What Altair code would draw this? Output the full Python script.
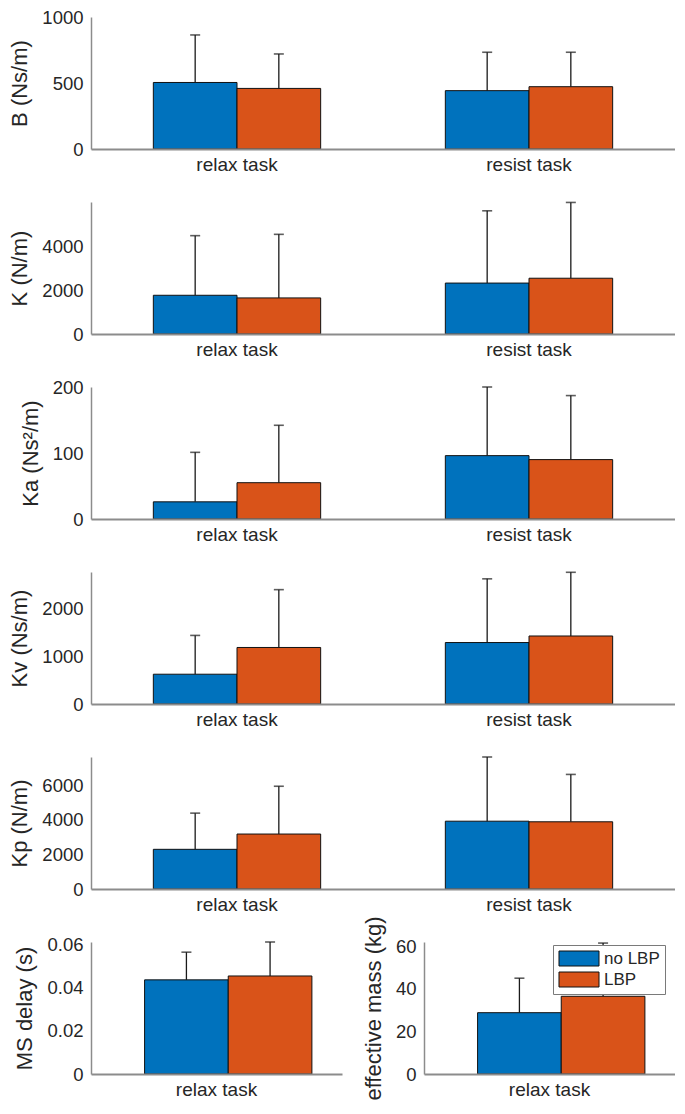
import altair as alt
import pandas as pd

groups = ["no LBP", "LBP"]
tasks = ["relax task", "resist task"]
colors = ["#0072BD", "#D95319"]

# mean values [no LBP, LBP] and their standard deviations, per task
B_relax, B_relax_sd = [504, 459], [360, 261]
B_resist, B_resist_sd = [442, 472], [291, 261]

K_relax, K_relax_sd = [1760, 1640], [2710, 2890]
K_resist, K_resist_sd = [2315, 2535], [3285, 3445]

Ka_relax, Ka_relax_sd = [26, 55], [75, 87]
Ka_resist, Ka_resist_sd = [96, 90], [104, 97]

Kv_relax, Kv_relax_sd = [623, 1182], [811, 1209]
Kv_resist, Kv_resist_sd = [1285, 1422], [1332, 1332]

Kp_relax, Kp_relax_sd = [2300, 3185], [2097, 2770]
Kp_resist, Kp_resist_sd = [3930, 3895], [3720, 2745]

MS_relax, MS_relax_sd = [0.0435, 0.0453], [0.0128, 0.0157]
M_relax, M_relax_sd = [28.8, 36.5], [16.2, 25.0]

# y axis tick values
B_ticks = [0, 500, 1000]
K_ticks = [0, 2000, 4000]
Ka_ticks = [0, 100, 200]
Kv_ticks = [0, 1000, 2000]
Kp_ticks = [0, 2000, 4000, 6000]
MS_ticks = [0, 0.02, 0.04, 0.06]
M_ticks = [0, 20, 40, 60]

FONT = "Liberation Sans"
TXT = "#262626"
AX = "#8c8c8c"


def panel(task_list, means, sds, title, domain, ticks, w, h, label_expr=None, legend=None):
    rows = []
    for t, m, s in zip(task_list, means, sds):
        for g, mv, sv in zip(groups, m, s):
            rows.append({"task": t, "group": g, "mean": mv, "top": mv + sv})
    df = pd.DataFrame(rows)
    xaxis = alt.Axis(title=None, labelAngle=0, zindex=1)
    x = alt.X("task:N", sort=task_list,
              scale=alt.Scale(paddingInner=0.427, paddingOuter=0.2135), axis=xaxis)
    xo = alt.XOffset("group:N", sort=groups,
                     scale=alt.Scale(paddingInner=0, paddingOuter=0))
    ykw = dict(values=ticks, title=title)
    if label_expr:
        ykw["labelExpr"] = label_expr
    else:
        ykw["format"] = "d"
    yaxis = alt.Axis(**ykw)
    yscale = alt.Scale(domain=domain, nice=False, zero=True)
    if legend is None:
        color = alt.Color("group:N", sort=groups,
                          scale=alt.Scale(domain=groups, range=colors), legend=None)
    else:
        color = alt.Color("group:N", sort=groups,
                          scale=alt.Scale(domain=groups, range=colors), legend=legend)
    base = alt.Chart(df)
    bars = base.mark_bar(stroke="#111111", strokeWidth=1).encode(
        x=x, xOffset=xo, y=alt.Y("mean:Q", scale=yscale, axis=yaxis), color=color)
    rules = base.mark_rule(color="#1a1a1a", strokeWidth=1.3).encode(
        x=x, xOffset=xo, y=alt.Y("mean:Q", scale=yscale, axis=yaxis), y2="top:Q")
    caps = base.mark_tick(color="#1a1a1a", size=10, thickness=1.6, orient="horizontal").encode(
        x=x, xOffset=xo, y=alt.Y("top:Q", scale=yscale, axis=yaxis))
    return alt.layer(bars, rules, caps).properties(width=w, height=h)


W, H = 584, 132
p1 = panel(tasks, [B_relax, B_resist], [B_relax_sd, B_resist_sd], "B (Ns/m)", [0, 1000], B_ticks, W, H)
p2 = panel(tasks, [K_relax, K_resist], [K_relax_sd, K_resist_sd], "K (N/m)", [0, 6000], K_ticks, W, H)
p3 = panel(tasks, [Ka_relax, Ka_resist], [Ka_relax_sd, Ka_resist_sd], "Ka (Ns²/m)", [0, 200], Ka_ticks, W, H)
p4 = panel(tasks, [Kv_relax, Kv_resist], [Kv_relax_sd, Kv_resist_sd], "Kv (Ns/m)", [0, 2760], Kv_ticks, W, H)
p5 = panel(tasks, [Kp_relax, Kp_resist], [Kp_relax_sd, Kp_resist_sd], "Kp (N/m)", [0, 7650], Kp_ticks, W, H)

SW, GAP = 251, 82
p6 = panel(["relax task"], [MS_relax], [MS_relax_sd], "MS delay (s)", [0, 0.061], MS_ticks, SW, H,
           label_expr="datum.value == 0 ? '0' : format(datum.value, '.2f')")
leg = alt.Legend(title=None, orient="none", legendX=SW - 122, legendY=3,
                 symbolType="M-2.667,-1H2.667V1H-2.667Z", symbolSize=225,
                 symbolOffset=12.5,
                 symbolStrokeColor="#111111", symbolStrokeWidth=1, symbolOpacity=1,
                 labelFontSize=17, labelColor=TXT, labelFont=FONT,
                 fillColor="white", strokeColor="#7a7a7a", padding=5, rowPadding=2,
                 labelOffset=16.5)
p7 = panel(["relax task"], [M_relax], [M_relax_sd], "effective mass (kg)", [0, 62], M_ticks, SW, H,
           legend=leg)

bottom = alt.hconcat(p6, p7, spacing=GAP, bounds="flush").resolve_legend(color="independent")

chart = alt.vconcat(p1, p2, p3, p4, p5, bottom, spacing=53, bounds="flush",
                    padding=0).resolve_legend(color="independent")

chart = chart.configure(font=FONT).configure_view(stroke=None).configure_axisX(
    domainColor=AX, domainWidth=2, ticks=False, labelFontSize=19, labelPadding=6,
    labelColor=TXT, labelFont=FONT
).configure_axisY(
    domainColor=AX, domainWidth=1.5, ticks=False, grid=False, labelFontSize=18.5,
    labelPadding=8, labelColor=TXT, labelFont=FONT, titleFontSize=22,
    titleFontWeight="normal", titlePadding=10, titleColor=TXT, titleFont=FONT
)

chart.save("out.html", embed_options={"renderer": "svg", "actions": False})
